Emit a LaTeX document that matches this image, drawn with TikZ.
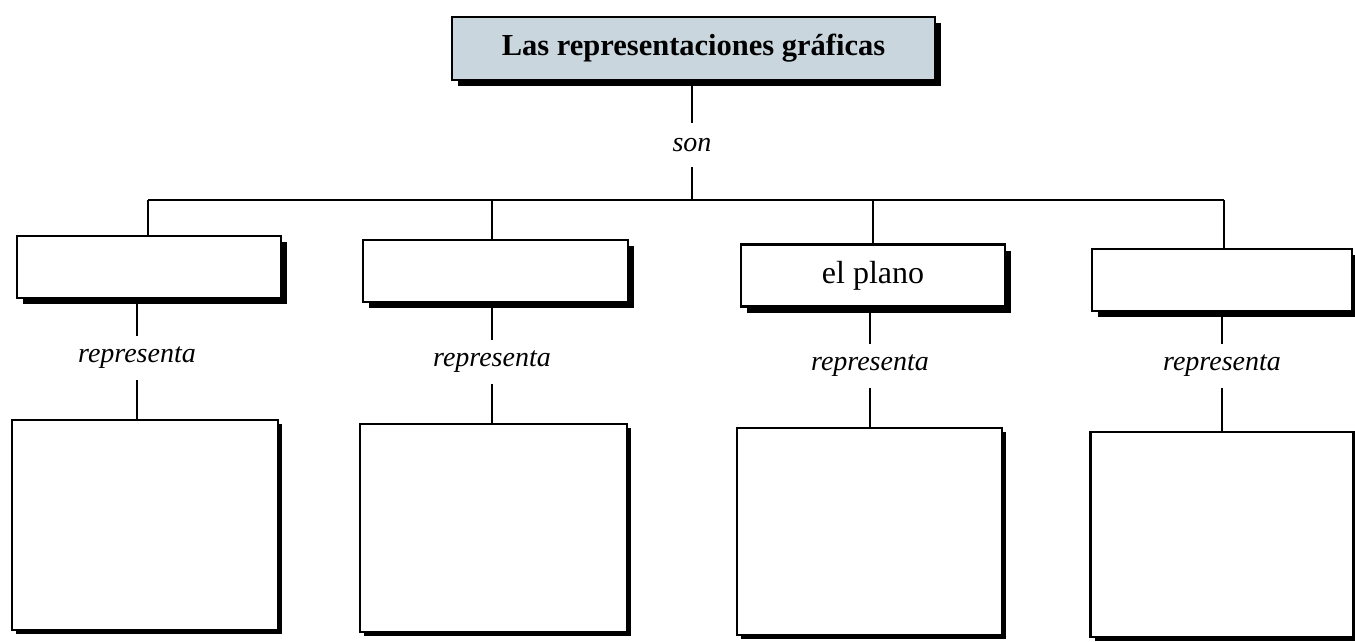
\documentclass[tikz,border=0pt]{standalone}
\usepackage{fontspec}
\setmainfont{Liberation Serif}
\usetikzlibrary{shadows}
\definecolor{titlefill}{RGB}{202,214,222}
\begin{document}
\begin{tikzpicture}[x=1pt,y=-1pt,
  shadowed/.style={draw=black, line width=2.2pt, fill=white,
    drop shadow={shadow xshift=6pt, shadow yshift=-6pt, fill=black, opacity=1}},
  titlebox/.style={shadowed, fill=titlefill, minimum width=483pt, minimum height=63pt,
    inner sep=0pt, font=\fontsize{30.5}{34}\selectfont\bfseries},
  smallbox/.style={shadowed, minimum height=62pt, inner sep=0pt,
    font=\fontsize{32}{36}\selectfont},
  bigbox/.style={draw=black, line width=2.2pt, fill=white, inner sep=0pt,
    drop shadow={shadow xshift=4pt, shadow yshift=-4pt, fill=black, opacity=1}},
  linklabel/.style={font=\fontsize{28}{32}\selectfont\itshape, inner sep=0pt, minimum height=44pt},
  link/.style={line width=1.8pt}]
\useasboundingbox (0,0) rectangle (1355,642);
\node[titlebox] (title) at (693.5,48.5) {Las representaciones gráficas};
\node[linklabel] (son) at (692,145) {son};
\coordinate (hub) at (692,200);
\coordinate (bar1) at (148,200);
\coordinate (bar2) at (492,200);
\coordinate (bar3) at (873,200);
\coordinate (bar4) at (1224,200);

\node[smallbox, minimum width=264pt] (s1) at (149,267) {};
\node[smallbox, minimum width=265pt] (s2) at (495.5,271) {};
\node[smallbox, minimum width=264pt] (s3) at (873,275.5) {el plano};
\node[smallbox, minimum width=260pt] (s4) at (1222,280) {};

\node[linklabel] (r1) at (137,358) {representa};
\node[linklabel] (r2) at (492,362) {representa};
\node[linklabel] (r3) at (870,366) {representa};
\node[linklabel] (r4) at (1222,366) {representa};

\node[bigbox, minimum width=266pt, minimum height=210pt] (b1) at (145,525) {};
\node[bigbox, minimum width=267pt, minimum height=208pt] (b2) at (493.5,528) {};
\node[bigbox, minimum width=265pt, minimum height=207pt] (b3) at (869.5,531.5) {};
\node[bigbox, minimum width=263pt, minimum height=205pt] (b4) at (1222,534.5) {};

\draw[link] (son.north |- title.south) -- (son.north);
\draw[link] (son.south) -- (hub);
\draw[link] (bar1) -- (bar4);
\foreach \i in {1,2,3,4}{
  \draw[link] (bar\i) -- (bar\i |- s\i.north);
  \draw[link] (r\i.north |- s\i.south) -- (r\i.north);
  \draw[link] (r\i.south) -- (r\i.south |- b\i.north);
}
\end{tikzpicture}
\end{document}
